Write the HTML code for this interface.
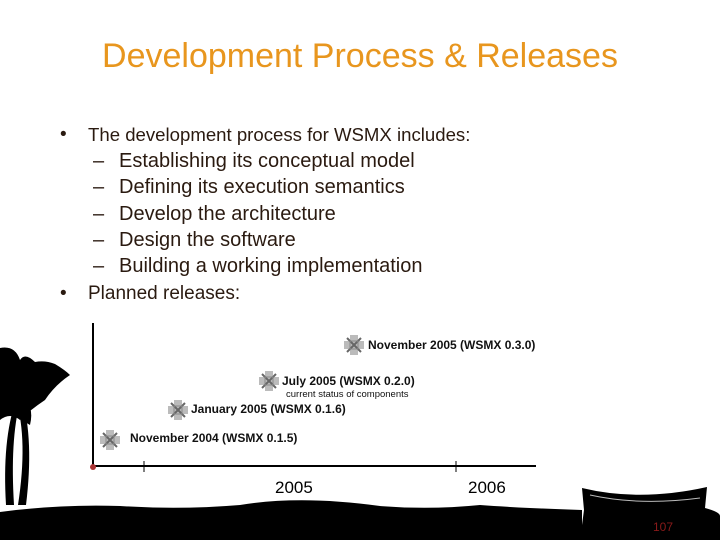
<!DOCTYPE html>
<html><head><style>
body{margin:0;width:720px;height:540px;overflow:hidden;background:#fff;position:relative;font-family:"Liberation Sans",sans-serif;}
.t{position:absolute;white-space:nowrap;}
.title{left:0;width:720px;text-align:center;top:37px;font-size:34px;color:#E8961E;}
.b{font-size:19px;color:#2a1a10;}
.s{font-size:20px;color:#2a1a10;}
.r{font-size:12px;font-weight:bold;color:#111;}
</style></head><body>
<div class="t title">Development Process &amp; Releases</div>
<div class="t b" style="left:60px;top:124px">•</div><div class="t b" style="left:88px;top:124px;font-size:18.6px">The development process for WSMX includes:</div>
<div class="t s" style="left:93px;top:150px">–</div><div class="t s" style="left:119px;top:150px">Establishing its conceptual model</div>
<div class="t s" style="left:93px;top:176px">–</div><div class="t s" style="left:119px;top:176px">Defining its execution semantics</div>
<div class="t s" style="left:93px;top:203px">–</div><div class="t s" style="left:119px;top:203px">Develop the architecture</div>
<div class="t s" style="left:93px;top:229px">–</div><div class="t s" style="left:119px;top:229px">Design the software</div>
<div class="t s" style="left:93px;top:255px">–</div><div class="t s" style="left:119px;top:255px">Building a working implementation</div>
<div class="t b" style="left:60px;top:283px">•</div><div class="t b" style="left:88px;top:283px">Planned releases:</div>

<svg width="720" height="540" style="position:absolute;left:0;top:0">
<defs><g id="i"><rect x="0" y="6" width="20" height="8" fill="#bbb"/><rect x="6" y="0" width="8" height="20" fill="#bbb"/><path d="M3 3L17 17M17 3L3 17" stroke="#666" stroke-width="2"/><rect x="6" y="6" width="8" height="8" fill="none" stroke="#888"/></g></defs>
<line x1="93" y1="323" x2="93" y2="467" stroke="#000" stroke-width="2"/>
<line x1="93" y1="466" x2="536" y2="466" stroke="#000" stroke-width="2"/>
<line x1="144" y1="461" x2="144" y2="472" stroke="#000"/>
<line x1="456" y1="461" x2="456" y2="472" stroke="#000"/>
<circle cx="93" cy="467" r="3" fill="#a33"/>
<use href="#i" x="100" y="430"/>
<use href="#i" x="168" y="400"/>
<use href="#i" x="259" y="371"/>
<use href="#i" x="344" y="335"/>
<path d="M0 512 Q60 504 120 506 Q180 510 240 505 Q300 495 380 506 Q430 510 480 505 Q520 508 582 510 L582 540 L0 540Z" fill="#000"/>
<path d="M582 488 Q640 502 707 487 L705 508 Q720 512 720 516 L720 540 L580 540 L584 510Z" fill="#000"/>
<path d="M590 495 Q640 506 700 498" stroke="#bbb" stroke-width="1" fill="none"/>
<g fill="#000">
<path d="M6 505 Q2 440 16 400 L20 402 Q10 440 14 505Z"/>
<path d="M18 505 Q28 440 16 400 L22 398 Q34 440 26 505Z"/>
<path d="M0 348 Q15 345 20 360 Q25 352 35 362 Q45 360 55 364 Q65 370 70 375 Q55 385 45 400 Q30 410 20 420 Q10 412 0 420Z"/>
<path d="M20 395 Q35 405 30 425 Q20 420 15 405Z"/>
</g>
</svg>
<div class="t r" style="left:368px;top:338px">November 2005 (WSMX 0.3.0)</div>
<div class="t r" style="left:282px;top:374px">July 2005 (WSMX 0.2.0)</div>
<div class="t" style="left:286px;top:389px;font-size:9.5px;color:#111">current status of components</div>
<div class="t r" style="left:191px;top:402px">January 2005 (WSMX 0.1.6)</div>
<div class="t r" style="left:130px;top:431px">November 2004 (WSMX 0.1.5)</div>
<div class="t" style="left:275px;top:478px;font-size:17px">2005</div>
<div class="t" style="left:468px;top:478px;font-size:17px">2006</div>
<div class="t" style="left:653px;top:520px;font-size:12px;color:#8a1a1a">107</div>
</body></html>
